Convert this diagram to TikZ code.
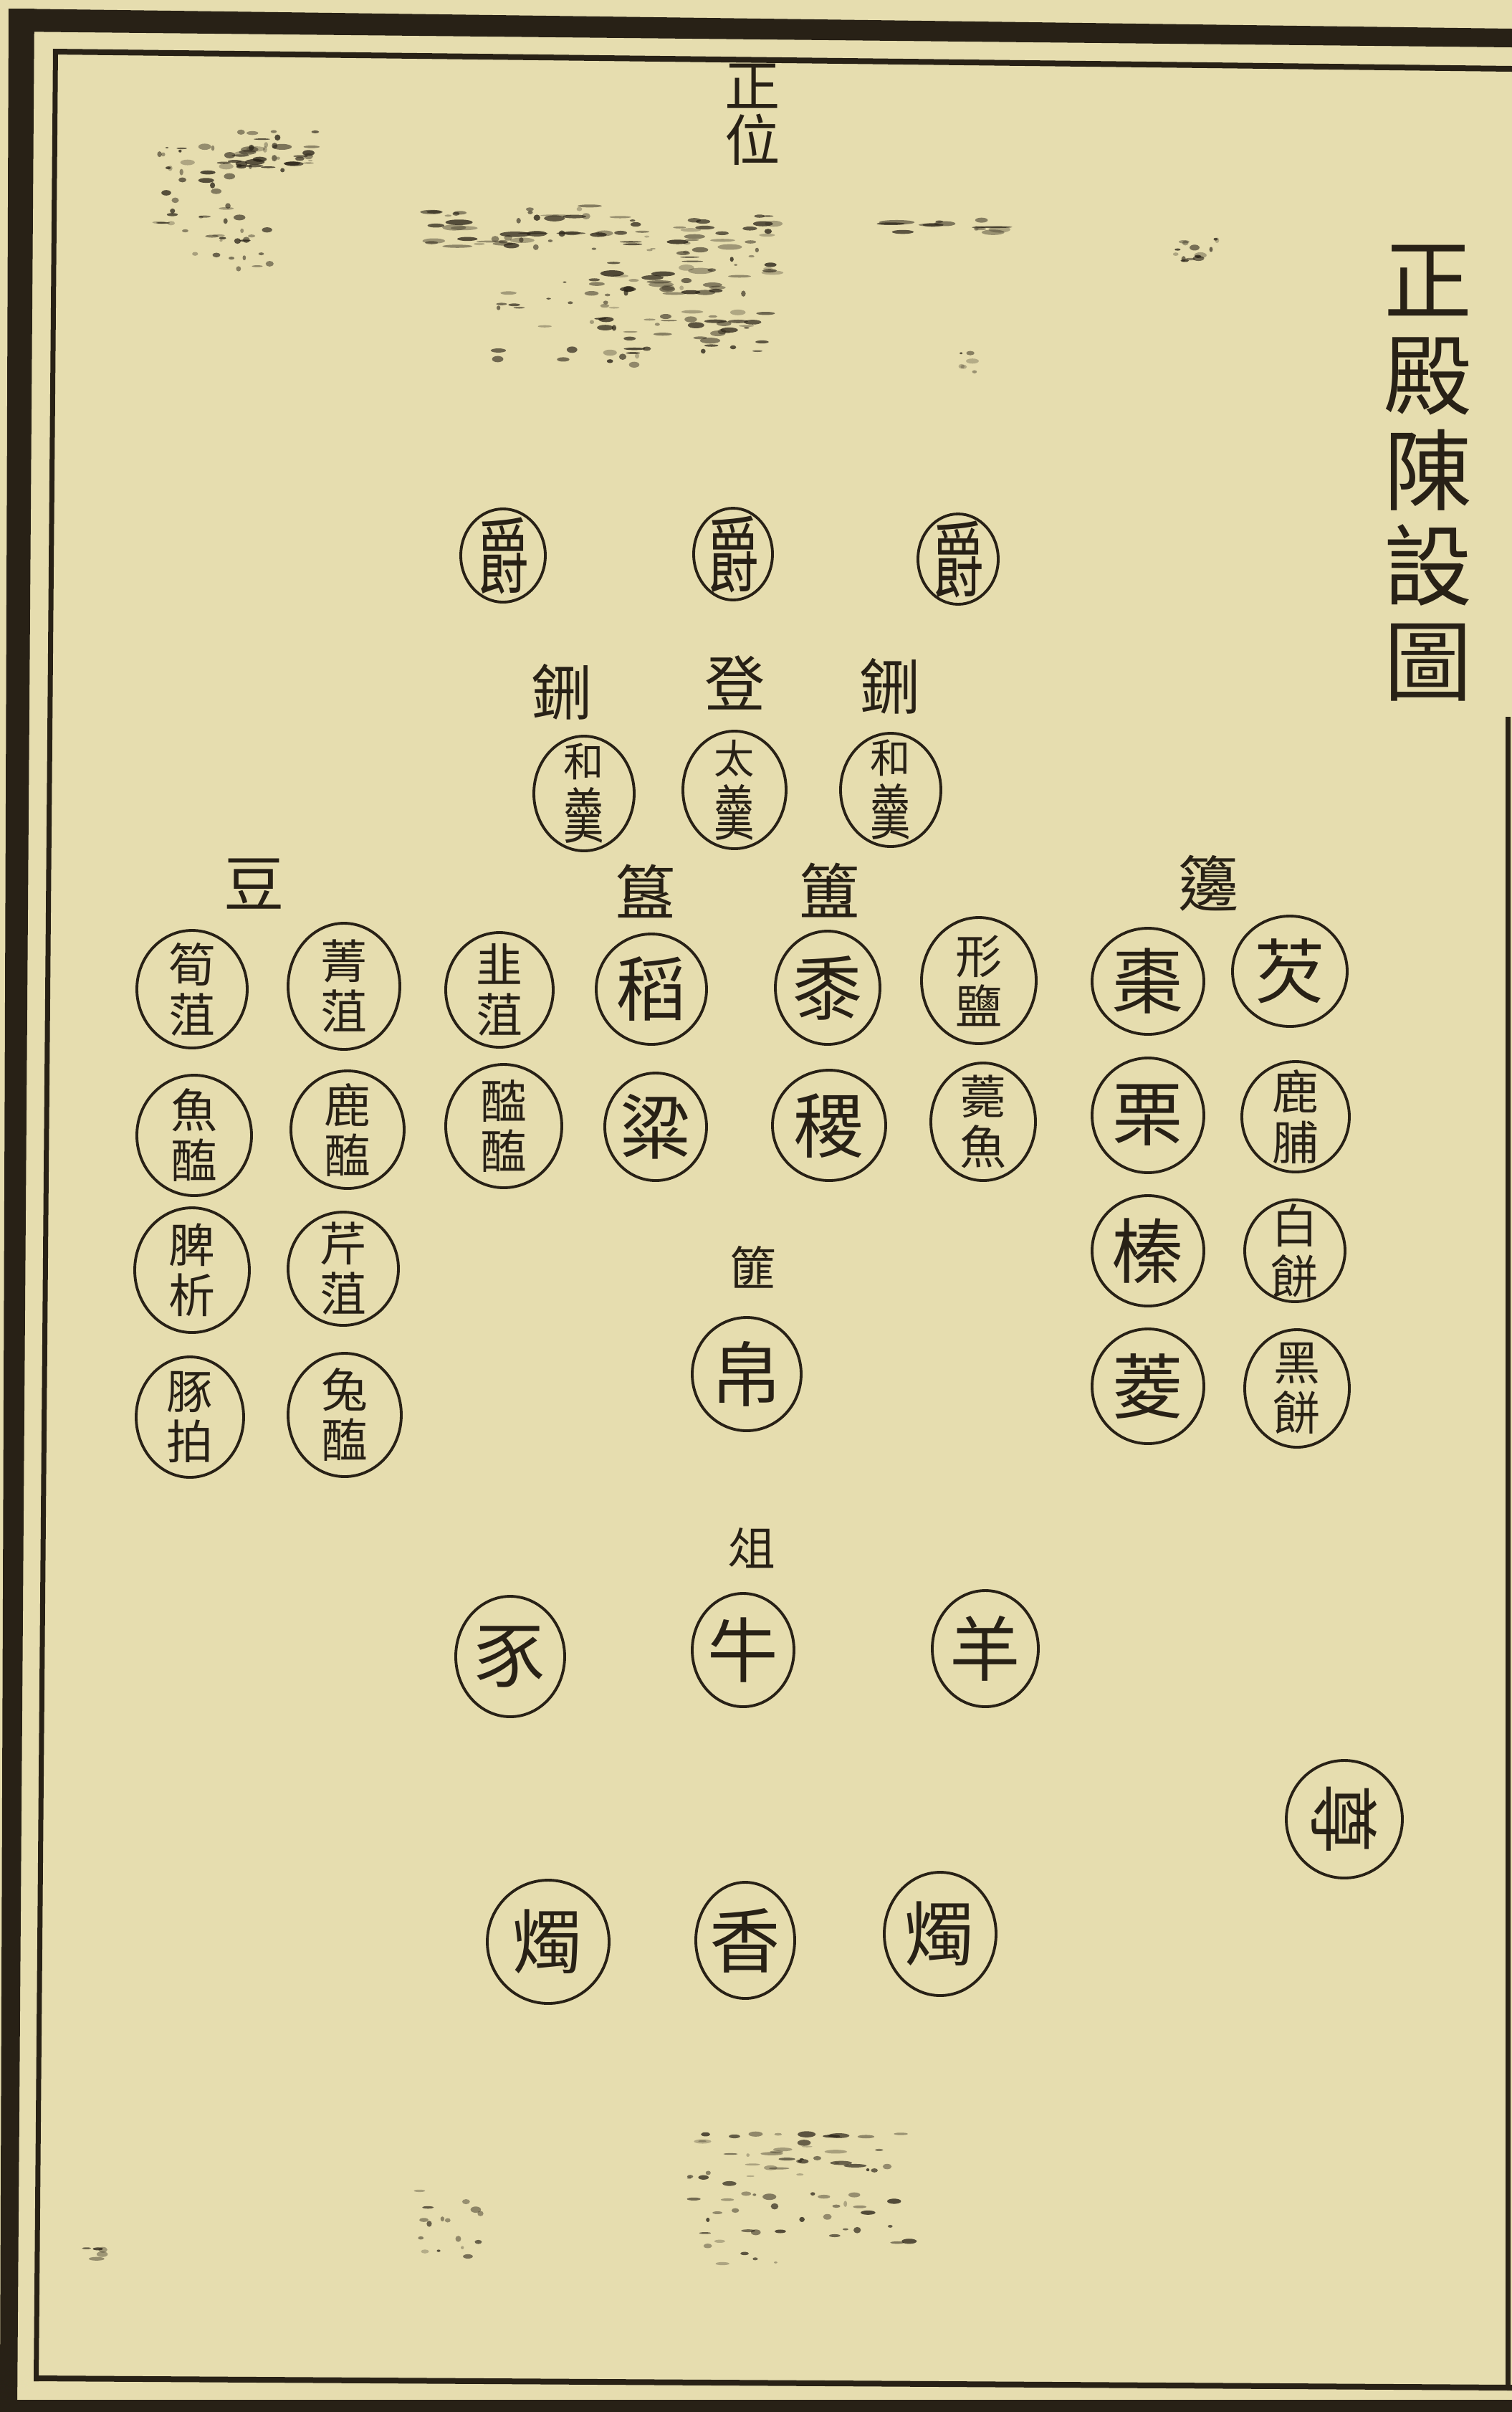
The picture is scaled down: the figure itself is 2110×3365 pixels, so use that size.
\documentclass[tikz,border=0pt]{standalone}
\usepackage{fontspec}
\usepackage{graphicx}
\newfontfamily\cjk{Noto Sans CJK TC}
\usetikzlibrary{shapes.geometric}
\definecolor{paper}{RGB}{230,221,175}
\definecolor{ink}{RGB}{40,33,22}
\newcommand\fTitle{\fontsize{35}{37.8}\selectfont}
\newcommand\fTop{\fontsize{22}{21.6}\selectfont}
\newcommand\fLab{\fontsize{24}{26}\selectfont}
\newcommand\fSml{\fontsize{18.5}{20}\selectfont}
\newcommand\fOne{\fontsize{28}{30}\selectfont}
\newcommand\fJue{\fontsize{33}{34}\selectfont}
\newcommand\fTwo{\fontsize{18.5}{19.9}\selectfont}
\newcommand\fGeng{\fontsize{16}{17}\selectfont}
% \vessel{name}{x}{y}{rx}{ry}{font}{text}
\newcommand\vessel[7]{%
  \node[txt,font=\cjk#6] (#1) at (#2,#3) {#7};
  \draw[ring] (#1.center) ellipse [x radius=#4, y radius=#5];}
% \stain{x0}{y0}{w}{h}{count}{maxlen}
\newcommand\stain[6]{%
  \foreach \k in {1,...,#5}{%
    \pgfmathsetmacro\sx{#1+rnd*#3}%
    \pgfmathsetmacro\sy{#2+rnd*#4}%
    \pgfmathsetmacro\sa{2+rnd*#6}%
    \pgfmathsetmacro\sb{1+rnd*3.5}%
    \pgfmathsetmacro\so{0.25+rnd*0.55}%
    \fill[ink,opacity=\so] (\sx,\sy) ellipse [x radius=\sa, y radius=\sb];}}
\begin{document}
\begin{tikzpicture}[x=0.01cm,y=-0.01cm,
  txt/.style={text=ink, align=center, inner sep=0pt},
  lab/.style={txt, font=\cjk\fLab},
  sml/.style={txt, font=\cjk\fSml},
  ring/.style={draw=ink, line width=1.1pt},
  frame/.style={fill=ink}]
\fill[paper] (0,0) rectangle (2110,3365);
\useasboundingbox (0,0) rectangle (2110,3365);
% ---- frame ----
\fill[frame] (15,12) -- (2110,40) -- (2110,66) -- (15,44) -- cycle;
\fill[frame] (12,12) -- (48,12) -- (24,3365) -- (0,3365) -- (0,3340) -- cycle;
\fill[frame] (0,3348) -- (2110,3348) -- (2110,3365) -- (0,3365) -- cycle;
\fill[frame] (74,68) -- (2110,92) -- (2110,100) -- (74,76) -- cycle;
\fill[frame] (74,68) -- (81,68) -- (54,3322) -- (47,3322) -- cycle;
\fill[frame] (47,3314) -- (2110,3327) -- (2110,3335) -- (47,3322) -- cycle;
\fill[frame] (2101,1000) rectangle (2108,3330);
% ---- scan damage ----
\pgfmathsetseed{17}
\stain{220}{200}{120}{130}{35}{9}
\stain{330}{180}{110}{60}{35}{12}
\stain{240}{300}{150}{80}{20}{8}
\stain{590}{285}{240}{60}{40}{20}
\stain{820}{300}{260}{110}{70}{16}
\stain{690}{390}{200}{120}{35}{10}
\stain{880}{430}{190}{60}{30}{14}
\stain{1240}{305}{210}{20}{14}{26}
\stain{1640}{325}{70}{40}{14}{7}
\stain{1310}{490}{50}{30}{6}{7}
\stain{585}{3050}{90}{100}{16}{6}
\stain{980}{2975}{280}{60}{35}{14}
\stain{960}{3030}{140}{140}{25}{8}
\stain{1110}{3060}{160}{70}{16}{10}
\stain{105}{3132}{40}{25}{5}{10}
% ---- headings ----
\node[txt, font=\cjk\fTop] (zhengwei) at (1050,160) {正\\位};
\node[txt, font=\cjk\fTitle] (title) at (1993,660) {正\\殿\\陳\\設\\圖};
% ---- jue ----
\vessel{jue1}{702}{775}{59}{65}{\fJue}{\scalebox{0.62}[1]{爵}}
\vessel{jue2}{1023}{773}{55}{64}{\fJue}{\scalebox{0.62}[1]{爵}}
\vessel{jue3}{1337}{780}{56}{63}{\fJue}{\scalebox{0.62}[1]{爵}}
% ---- xing / deng ----
\node[lab] (xingL) at (785,965) {鉶};
\node[lab] (deng) at (1026,952) {登};
\node[lab] (xingR) at (1243,957) {鉶};
\vessel{hg1}{815}{1107}{70}{80}{\fGeng}{和\\[2pt]\scalebox{1}[1.5]{羹}}
\vessel{tg}{1025}{1102}{72}{82}{\fGeng}{太\\[2pt]\scalebox{1}[1.5]{羹}}
\vessel{hg2}{1243}{1102}{70}{79}{\fGeng}{和\\[2pt]\scalebox{1}[1.5]{羹}}
% ---- dou ----
\node[lab] (dou) at (355,1233) {豆};
\vessel{d11}{268}{1380}{77}{82}{\fTwo}{筍\\菹}
\vessel{d12}{480}{1376}{78}{88}{\fTwo}{菁\\菹}
\vessel{d13}{697}{1381}{75}{80}{\fTwo}{韭\\菹}
\vessel{d21}{271}{1584}{80}{84}{\fTwo}{魚\\醢}
\vessel{d22}{485}{1576}{79}{82}{\fTwo}{鹿\\醢}
\vessel{d23}{703}{1571}{81}{86}{\fTwo}{醓\\醢}
\vessel{d31}{268}{1772}{80}{87}{\fTwo}{脾\\析}
\vessel{d32}{479}{1770}{77}{79}{\fTwo}{芹\\菹}
\vessel{d41}{265}{1977}{75}{84}{\fTwo}{豚\\拍}
\vessel{d42}{481}{1974}{79}{86}{\fTwo}{兔\\醢}
% ---- gui / fu ----
\node[lab] (gui) at (901,1243) {簋};
\node[lab] (fu) at (1158,1242) {簠};
\vessel{dao}{909}{1380}{77}{77}{\fOne}{稻}
\vessel{shu}{1155}{1378}{73}{79}{\fOne}{黍}
\vessel{xingyan}{1366}{1368}{80}{88}{\fTwo}{形\\鹽}
\vessel{liang}{915}{1572}{71}{75}{\fOne}{粱}
\vessel{ji}{1157}{1570}{79}{77}{\fOne}{稷}
\vessel{kaoyu}{1372}{1565}{73}{82}{\fTwo}{薧\\魚}
% ---- bian ----
\node[lab] (bian) at (1687,1232) {籩};
\vessel{zao}{1602}{1369}{78}{74}{\fOne}{棗}
\vessel{qian}{1800}{1355}{80}{77}{\fOne}{芡}
\vessel{li}{1602}{1556}{78}{80}{\fOne}{栗}
\vessel{lufu}{1808}{1558}{75}{77}{\fSml}{鹿\\脯}
\vessel{zhen}{1602}{1745}{78}{77}{\fOne}{榛}
\vessel{baibing}{1807}{1745}{70}{71}{\fSml}{白\\餅}
\vessel{ling}{1602}{1934}{78}{80}{\fOne}{菱}
\vessel{heibing}{1810}{1937}{73}{82}{\fSml}{黑\\餅}
% ---- fei / zu ----
\node[sml] (fei) at (1051,1768) {篚};
\vessel{bo}{1042}{1917}{76}{79}{\fOne}{帛}
\node[sml] (zu) at (1049,2160) {俎};
\vessel{shi}{712}{2311}{76}{84}{\fOne}{豕}
\vessel{niu}{1037}{2302}{71}{79}{\fOne}{牛}
\vessel{yang}{1375}{2300}{74}{81}{\fOne}{羊}
% ---- zun ----
\node[txt, font=\cjk\fOne, rotate=-90] (zun) at (1876,2538) {尊};
\draw[ring] (zun.center) ellipse [x radius=81, y radius=82];
% ---- incense and candles ----
\vessel{zhuL}{765}{2709}{85}{86}{\fOne}{燭}
\vessel{xiang}{1040}{2707}{69}{81}{\fOne}{香}
\vessel{zhuR}{1312}{2698}{78}{86}{\fOne}{燭}
\end{tikzpicture}
\end{document}
